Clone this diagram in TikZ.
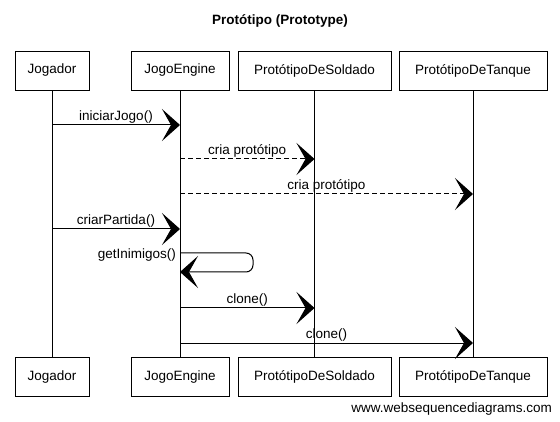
\documentclass[tikz,border=0pt]{standalone}
\usepackage{fontspec}
\setmainfont{Liberation Sans}
\usetikzlibrary{arrows.meta}
\begin{document}
\begin{tikzpicture}[x=1pt,y=-1pt,
  lbl/.style={font=\fontsize{13.5}{16}\selectfont},
  actor/.style={lbl,draw,line width=0.9pt,minimum height=39pt,inner sep=0pt},
  life/.style={line width=0.8pt},
  msg/.style={line width=1pt,-{Stealth[length=18pt,width=32pt,inset=9pt]}},
  reply/.style={msg,dash pattern=on 5pt off 3pt},
  mlab/.style={lbl,above,inner sep=1pt}]
\useasboundingbox (0,0) rectangle (560,422);
\node[font=\bfseries\fontsize{13.5}{16}\selectfont] (title) at (280,21) {Protótipo (Prototype)};
% top boxes
\node[actor,minimum width=74pt]  (jt) at (52,70.5)  {Jogador};
\node[actor,minimum width=98pt]  (et) at (180,70.5) {JogoEngine};
\node[actor,minimum width=153pt] (st) at (314.5,70.5) {ProtótipoDeSoldado};
\node[actor,minimum width=148pt] (tt) at (473,70.5) {ProtótipoDeTanque};
% bottom boxes
\node[actor,minimum width=74pt]  (jb) at (52,377)  {Jogador};
\node[actor,minimum width=98pt]  (eb) at (180,377) {JogoEngine};
\node[actor,minimum width=153pt] (sb) at (314.5,377) {ProtótipoDeSoldado};
\node[actor,minimum width=148pt] (tb) at (473,377) {ProtótipoDeTanque};
% lifelines
\draw[life] (jt.south) -- (jb.north);
\draw[life] (et.south) -- (eb.north);
\draw[life] (st.south) -- (sb.north);
\draw[life] (tt.south) -- (tb.north);
% message points
\coordinate (j1) at (52,125);  \coordinate (e1) at (180,125);
\coordinate (e2) at (180,159); \coordinate (s2) at (314.5,159);
\coordinate (e3) at (180,194); \coordinate (t3) at (473,194);
\coordinate (j4) at (52,229);  \coordinate (e4) at (180,229);
\coordinate (e5a) at (180,253); \coordinate (e5b) at (180,272);
\coordinate (r5a) at (253,253); \coordinate (r5b) at (253,272);
\coordinate (e6) at (180,308); \coordinate (s6) at (314.5,308);
\coordinate (e7) at (180,343); \coordinate (t7) at (473,343);
% messages
\draw[msg] (j1) -- (e1) node[mlab,midway] {iniciarJogo()};
\draw[reply] (e2) -- (s2) node[mlab,midway] {cria protótipo};
\draw[reply] (e3) -- (t3) node[mlab,midway] {cria protótipo};
\draw[msg] (j4) -- (e4) node[mlab,midway] {criarPartida()};
\draw[msg,rounded corners=7pt] (e5a) -- (r5a) -- (r5b) -- (e5b);
\node[lbl,anchor=east,inner sep=1pt] (gl) at (177,255) {getInimigos()};
\draw[msg] (e6) -- (s6) node[mlab,midway] {clone()};
\draw[msg] (e7) -- (t7) node[mlab,midway] {clone()};
% footer
\node[lbl,anchor=south east,inner sep=0pt] (wm) at (552,416) {www.websequencediagrams.com};
\end{tikzpicture}
\end{document}
